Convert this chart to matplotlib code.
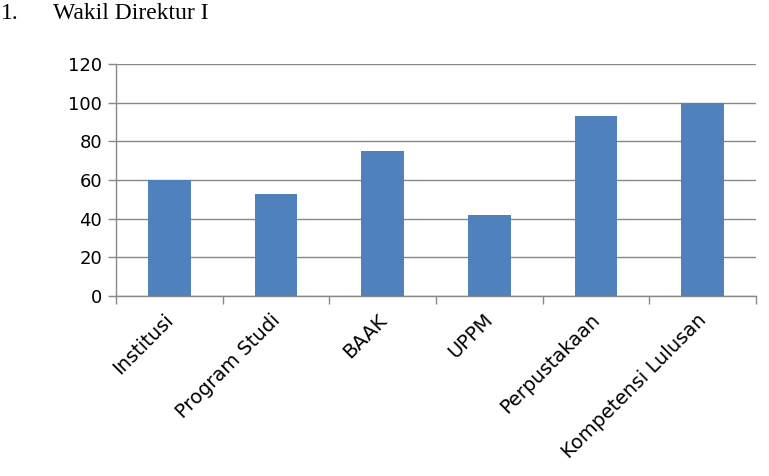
import matplotlib
matplotlib.use("Agg")
import matplotlib.pyplot as plt
import matplotlib.transforms as mtransforms

categories = ["Institusi", "Program Studi", "BAAK", "UPPM", "Perpustakaan", "Kompetensi Lulusan"]
values = [60, 53, 75, 42, 93, 100]
yticks = [0, 20, 40, 60, 80, 100, 120]

BAR = "#4F81BD"
GRID = "#888888"

fig = plt.figure(figsize=(7.69, 4.76), dpi=100)
ax = fig.add_axes([0.1508, 0.378, 0.8322, 0.4875])

x = list(range(len(categories)))
ax.bar(x, values, width=0.4, color=BAR, zorder=3)

ax.set_xlim(-0.5, len(categories) - 0.5)
ax.set_ylim(0, 120)
ax.set_yticks(yticks)
ax.yaxis.grid(True, color=GRID, lw=1.0, zorder=0)
ax.set_axisbelow(True)

for s in ["top", "right"]:
    ax.spines[s].set_visible(False)
for s in ["left", "bottom"]:
    ax.spines[s].set_color(GRID)
    ax.spines[s].set_linewidth(1.0)

ax.tick_params(axis="y", colors=GRID, labelcolor="black", labelsize=13,
               length=6, width=1.0, pad=4)
ax.set_yticklabels([str(v) for v in yticks], fontfamily="DejaVu Sans")

# category boundary ticks on x
ax.set_xticks([i - 0.5 for i in range(len(categories) + 1)])
ax.set_xticklabels([])
ax.tick_params(axis="x", colors=GRID, length=6, width=1.0)

offset = mtransforms.ScaledTranslation(0.01, -0.21, fig.dpi_scale_trans)
for i, lab in enumerate(categories):
    ax.text(i, 0, lab, rotation=45, ha="right", va="center",
            rotation_mode="anchor", fontsize=14, fontfamily="DejaVu Sans",
            transform=ax.get_xaxis_transform() + offset)

fig.text(1 / 769, 1 - 19 / 476, "1.", fontsize=17,
         fontfamily="Liberation Serif", ha="left", va="baseline")
fig.text(53 / 769, 1 - 19 / 476, "Wakil Direktur I", fontsize=17,
         fontfamily="Liberation Serif", ha="left", va="baseline")

fig.savefig("out.png", dpi=100)
